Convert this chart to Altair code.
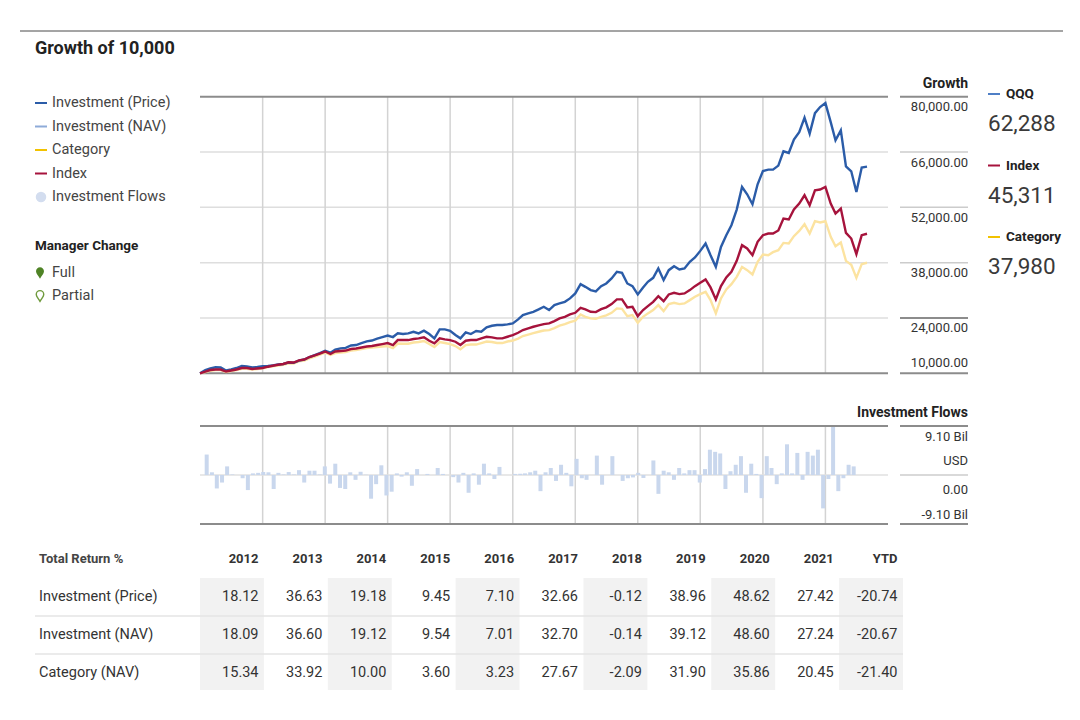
import altair as alt
import pandas as pd

FONT = "Roboto, 'Liberation Sans', sans-serif"

# ---------------- data ----------------
# Growth of 10,000 (in thousands), monthly points from Jan 2012
qqq = [10.0, 10.83, 11.21, 11.52, 11.47, 10.71, 10.96, 11.34, 11.84, 11.72, 11.47, 11.59, 11.77,
       11.84, 12.02, 12.22, 12.35, 12.73, 12.65, 13.23, 13.49, 14.12, 14.62, 15.13, 15.71,
       15.21, 16.01, 16.32, 16.44, 17.03, 17.15, 17.66, 18.09, 18.29, 18.79, 19.17, 19.55,
       19.17, 20.11, 19.93, 20.11, 20.51, 20.11, 20.77, 19.93, 18.84, 21.12, 21.12, 20.77,
       19.68, 18.84, 20.36, 19.93, 20.69, 20.51, 21.62, 22.03, 22.21, 22.21, 22.38, 22.64,
       23.65, 24.73, 25.16, 25.57, 26.17, 26.83, 26.00, 27.26, 27.69, 28.09, 28.95, 30.22,
       32.57, 31.88, 31.05, 30.72, 32.06, 32.74, 34.01, 35.67, 35.42, 32.74, 32.06, 29.96,
       31.73, 33.15, 34.16, 36.53, 33.58, 36.10, 37.11, 36.28, 36.53, 38.20, 39.31, 40.98,
       42.85, 39.89, 36.94, 41.99, 44.95, 47.48, 51.44, 57.15, 55.31, 52.78, 57.84, 61.20,
       61.55, 61.55, 62.56, 66.17, 65.75, 69.13, 71.05, 74.69, 70.65, 75.85, 77.37, 78.38,
       73.58, 68.96, 71.48, 62.38, 61.12, 55.89, 62.06, 62.29]

index_ = [10.0, 10.45, 10.83, 10.96, 10.96, 10.45, 10.71, 10.96, 11.34, 11.34, 11.09, 11.21, 11.34,
          11.67, 11.92, 12.15, 12.35, 12.78, 12.73, 13.29, 13.49, 14.12, 14.55, 15.00, 15.51,
          14.88, 15.51, 15.64, 15.76, 16.14, 16.27, 16.52, 16.77, 16.90, 17.15, 17.40, 17.66,
          17.15, 18.41, 18.41, 18.41, 18.67, 18.84, 19.10, 18.24, 17.58, 18.84, 18.59, 18.41,
          17.99, 17.15, 18.24, 18.41, 18.41, 18.84, 19.25, 19.10, 18.84, 18.84, 19.25, 19.68,
          20.26, 20.94, 21.37, 21.78, 22.13, 22.46, 22.64, 23.22, 23.90, 24.30, 24.91, 25.31,
          26.58, 26.17, 25.57, 25.49, 26.25, 26.68, 27.51, 28.70, 28.70, 26.68, 26.83, 24.48,
          26.00, 27.01, 28.09, 29.53, 28.27, 29.96, 30.37, 30.04, 30.22, 31.05, 32.06, 32.89,
          33.75, 31.73, 28.70, 32.06, 34.26, 35.67, 38.45, 42.42, 41.59, 39.89, 43.26, 44.95,
          45.38, 45.38, 46.14, 49.17, 48.92, 51.44, 52.96, 55.06, 52.53, 56.32, 56.50, 57.15,
          52.96, 50.43, 51.70, 45.53, 44.11, 40.15, 44.95, 45.31]

category = [10.0, 10.33, 10.66, 10.83, 10.83, 10.33, 10.58, 10.83, 11.16, 11.16, 10.96, 11.09, 11.26,
            11.59, 11.79, 11.97, 12.15, 12.53, 12.48, 13.03, 13.23, 13.79, 14.25, 14.75, 15.26,
            14.62, 15.13, 15.26, 15.38, 15.76, 15.89, 16.14, 16.39, 16.52, 16.65, 16.77, 16.90,
            16.39, 17.53, 17.48, 17.48, 17.78, 17.91, 18.16, 17.40, 16.65, 17.91, 17.66, 17.40,
            16.90, 16.06, 17.15, 17.28, 17.28, 17.66, 18.04, 17.91, 17.66, 17.66, 18.04, 18.29,
            18.79, 19.43, 19.80, 20.18, 20.51, 20.82, 20.94, 21.45, 22.08, 22.46, 22.96, 23.34,
            24.91, 24.30, 23.90, 23.80, 24.30, 24.66, 25.31, 26.43, 26.32, 24.48, 24.73, 22.79,
            24.30, 25.16, 26.00, 27.26, 25.74, 27.51, 27.84, 27.51, 27.69, 28.52, 29.36, 30.04,
            30.62, 28.52, 25.16, 28.95, 31.23, 32.57, 34.41, 36.94, 36.10, 35.02, 38.20, 40.07,
            39.89, 40.65, 41.16, 43.00, 42.85, 44.70, 46.04, 47.73, 45.38, 48.49, 48.16, 48.49,
            44.52, 42.17, 43.10, 38.45, 37.44, 34.16, 37.62, 37.98]

# Monthly investment flows, billions USD
flows = [3.8, 0.5, -2.5, -1.4, 1.6, 0.1, 0.0, -0.6, -2.8, 0.3, 0.4, 0.55,
         0.5, -2.6, 0.4, 0.1, 0.55, 0.1, 0.9, -1.4, 0.8, 0.8, 0.1, 1.6,
         -1.6, 2.1, -2.4, -2.6, 0.5, -0.9, 0.6, 0.05, -4.4, -1.7, 1.8, -3.8,
         -3.1, 0.3, -0.3, 0.5, -2.0, 1.1, 0.0, 0.2, 0.0, 1.3, 0.2, 0.0,
         -0.4, -1.4, 0.4, -3.3, 0.3, -1.8, 2.1, 0.3, -0.75, 1.5, 0.0, 0.0,
         0.2, 0.25, 0.3, 0.5, 0.8, -3.0, 0.5, 1.3, -1.1, 1.9, 0.4, -2.1,
         3.0, -0.6, -0.9, 0.0, 3.6, -1.8, 0.0, 3.5, 0.0, -1.1, -0.6, -0.45,
         0.4, -0.55, 0.0, 2.7, -3.5, 0.8, 0.5, -0.9, 1.3, 0.3, 0.9, 0.9,
         -1.4, 1.1, 4.7, 4.3, 4.0, -2.6, 0.7, 1.9, 3.5, -3.3, 2.1, 0.2,
         -4.3, 3.5, 1.3, -1.7, 0.3, 5.7, 0.3, 4.1, -0.9, 4.3, 3.6, 4.7,
         -6.2, -0.75, 9.0, -3.0, -0.6, 1.9, 1.6]

growth_ticks = [80, 66, 52, 38, 24]
growth_tick_labels = ["80,000.00", "66,000.00", "52,000.00", "38,000.00", "24,000.00"]
growth_base = [10]
growth_base_label = ["10,000.00"]
dark_ticks = [80, 24, 10]
light_ticks = [66, 52, 38]

flow_ticks = [9.1, 0, -9.1]
flow_labels = ["9.10 Bil", "0.00", "-9.10 Bil"]

cols = ["2012", "2013", "2014", "2015", "2016", "2017", "2018", "2019", "2020", "2021", "YTD"]
shaded_cols = ["2012", "2014", "2016", "2018", "2020", "YTD"]
rows = ["Investment (Price)", "Investment (NAV)", "Category (NAV)"]
ret_price = ["18.12", "36.63", "19.18", "9.45", "7.10", "32.66", "-0.12", "38.96", "48.62", "27.42", "-20.74"]
ret_nav = ["18.09", "36.60", "19.12", "9.54", "7.01", "32.70", "-0.14", "39.12", "48.60", "27.24", "-20.67"]
ret_cat = ["15.34", "33.92", "10.00", "3.60", "3.23", "27.67", "-2.09", "31.90", "35.86", "20.45", "-21.40"]

legend_names = ["Investment (Price)", "Investment (NAV)", "Category", "Index", "Investment Flows"]
legend_colors = ["#2b5ca8", "#8eabd8", "#f2c200", "#a6133c"]
manager_names = ["Full", "Partial"]

right_names = ["QQQ", "Index", "Category"]
right_values = ["62,288", "45,311", "37,980"]
right_colors = ["#4f7fc6", "#a6133c", "#f2c200"]

# ---------------- helpers ----------------
ONE = alt.Data(values=[{"a": 1}])


def txt(s, x, y, size, bold=False, align="left", color="#333333"):
    return alt.Chart(ONE).mark_text(
        text=s, font=FONT, fontSize=size, fontWeight="bold" if bold else "normal",
        align=align, baseline="middle", color=color
    ).encode(x=alt.value(x - 8), y=alt.value(y - 8))


def seg(x1, x2, y, color, w):
    return alt.Chart(ONE).mark_rule(color=color, strokeWidth=w).encode(
        x=alt.value(x1 - 8), x2=alt.value(x2 - 8), y=alt.value(y - 8))


X_T = alt.Scale(domain=[alt.DateTime(year=2012, month=1, date=1),
                        alt.DateTime(year=2023, month=3, date=1)], range=[192, 890])
Y_MAIN = alt.Scale(domain=[10, 80], range=[365.3, 88.7])
Y_FLOW = alt.Scale(domain=[-9.1, 9.1], range=[516, 418])

growth_dates = pd.date_range("2012-01-01", periods=len(qqq), freq="MS")
flow_dates = pd.date_range("2012-01-01", periods=len(flows), freq="MS") + pd.Timedelta(days=10)
year_lines = pd.DataFrame({"date": pd.date_range("2013-01-01", periods=10, freq="YS")})

growth = pd.concat([
    pd.DataFrame({"date": growth_dates, "value": v, "series": s})
    for s, v in [("Category", category), ("QQQ", qqq), ("Index", index_)]
])
flow_df = pd.DataFrame({"date": flow_dates, "flow": flows})

layers = []

# Title
layers.append(seg(20, 1063, 31, "#4a4a4a", 1))
layers.append(txt("Growth of 10,000", 35, 49, 18, bold=True, color="#222222"))

# ---------- main growth panel ----------
ydf_light = pd.DataFrame({"v": light_ticks + [24]})
ydf_dark = pd.DataFrame({"v": [80, 10]})
layers.append(alt.Chart(ydf_light).mark_rule(color="#dedede", strokeWidth=1.5).encode(
    y=alt.Y("v:Q", scale=Y_MAIN, axis=None), x=alt.value(192), x2=alt.value(880)))
layers.append(alt.Chart(year_lines).mark_rule(color="#d3d3d3", strokeWidth=1.5).encode(
    x=alt.X("date:T", scale=X_T, axis=None), y=alt.value(89), y2=alt.value(365)))
layers.append(alt.Chart(ydf_dark).mark_rule(color="#8c8c8c", strokeWidth=2).encode(
    y=alt.Y("v:Q", scale=Y_MAIN, axis=None), x=alt.value(192), x2=alt.value(880)))
# right axis segments
layers.append(alt.Chart(pd.DataFrame({"v": light_ticks})).mark_rule(color="#cccccc", strokeWidth=1.5).encode(
    y=alt.Y("v:Q", scale=Y_MAIN, axis=None), x=alt.value(892), x2=alt.value(960)))
layers.append(alt.Chart(pd.DataFrame({"v": dark_ticks})).mark_rule(color="#8c8c8c", strokeWidth=2).encode(
    y=alt.Y("v:Q", scale=Y_MAIN, axis=None), x=alt.value(892), x2=alt.value(960)))
layers.append(alt.Chart(pd.DataFrame({"v": growth_ticks, "t": growth_tick_labels})).mark_text(
    font=FONT, fontSize=13, align="right", baseline="middle", dy=10.5, color="#333333").encode(
    y=alt.Y("v:Q", scale=Y_MAIN, axis=None), x=alt.value(960), text="t:N"))
layers.append(alt.Chart(pd.DataFrame({"v": growth_base, "t": growth_base_label})).mark_text(
    font=FONT, fontSize=13, align="right", baseline="middle", dy=-10.5, color="#333333").encode(
    y=alt.Y("v:Q", scale=Y_MAIN, axis=None), x=alt.value(960), text="t:N"))
layers.append(txt("Growth", 968, 84, 14, bold=True, align="right", color="#222222"))

# lines
line_styles = [("Category", "#fce3a0"), ("QQQ", "#2b5ca8"), ("Index", "#a6133c")]
for s, c in line_styles:
    layers.append(alt.Chart(growth).transform_filter(alt.datum.series == s).mark_line(
        color=c, strokeWidth=2.4).encode(
        x=alt.X("date:T", scale=X_T, axis=None),
        y=alt.Y("value:Q", scale=Y_MAIN, axis=None)))

# ---------- flows panel ----------
layers.append(alt.Chart(year_lines).mark_rule(color="#d3d3d3", strokeWidth=1.5).encode(
    x=alt.X("date:T", scale=X_T, axis=None), y=alt.value(419), y2=alt.value(515)))
layers.append(alt.Chart(pd.DataFrame({"v": [0]})).mark_rule(color="#e0e0e0", strokeWidth=1.5).encode(
    y=alt.Y("v:Q", scale=Y_FLOW, axis=None), x=alt.value(192), x2=alt.value(880)))
layers.append(alt.Chart(flow_df).mark_bar(size=4, color="#c9d7ed").encode(
    x=alt.X("date:T", scale=X_T, axis=None),
    y=alt.Y("flow:Q", scale=Y_FLOW, axis=None, stack=None)))
layers.append(alt.Chart(pd.DataFrame({"v": [9.1, -9.1]})).mark_rule(color="#8c8c8c", strokeWidth=2).encode(
    y=alt.Y("v:Q", scale=Y_FLOW, axis=None), x=alt.value(192), x2=alt.value(880)))
layers.append(alt.Chart(pd.DataFrame({"v": [9.1, -9.1]})).mark_rule(color="#8c8c8c", strokeWidth=2).encode(
    y=alt.Y("v:Q", scale=Y_FLOW, axis=None), x=alt.value(892), x2=alt.value(960)))
layers.append(alt.Chart(pd.DataFrame({"v": [0]})).mark_rule(color="#cccccc", strokeWidth=1.5).encode(
    y=alt.Y("v:Q", scale=Y_FLOW, axis=None), x=alt.value(892), x2=alt.value(960)))
fl = pd.DataFrame({"v": flow_ticks, "t": flow_labels})
for val, dy in [(9.1, 11), (0, 15), (-9.1, -9)]:
    layers.append(alt.Chart(fl).transform_filter(alt.datum.v == val).mark_text(
        font=FONT, fontSize=13, align="right", baseline="middle", dy=dy, color="#333333").encode(
        y=alt.Y("v:Q", scale=Y_FLOW, axis=None), x=alt.value(960), text="t:N"))
layers.append(txt("USD", 968, 461, 13, align="right"))
layers.append(txt("Investment Flows", 968, 413, 14, bold=True, align="right", color="#222222"))

# ---------- left legend ----------
Y_LEG = alt.Scale(type="point", domain=legend_names, range=[95, 189], padding=0)
leg_df = pd.DataFrame({"name": legend_names})
layers.append(alt.Chart(leg_df).transform_filter(alt.datum.name != "Investment Flows").mark_rule(
    strokeWidth=2).encode(
    y=alt.Y("name:N", scale=Y_LEG, axis=None), x=alt.value(27), x2=alt.value(39),
    color=alt.Color("name:N", scale=alt.Scale(domain=legend_names[:4], range=legend_colors), legend=None)))
layers.append(alt.Chart(leg_df).transform_filter(alt.datum.name == "Investment Flows").mark_circle(
    size=110, color="#d3ddef", opacity=1).encode(
    y=alt.Y("name:N", scale=Y_LEG, axis=None), x=alt.value(33)))
layers.append(alt.Chart(leg_df).mark_text(font=FONT, fontSize=14.5, align="left", baseline="middle",
                                          color="#444444").encode(
    y=alt.Y("name:N", scale=Y_LEG, axis=None), x=alt.value(44), text="name:N"))
layers.append(txt("Manager Change", 35, 246, 13.5, bold=True, color="#222222"))
Y_MGR = alt.Scale(type="point", domain=manager_names, range=[265, 288], padding=0)
mgr_df = pd.DataFrame({"name": manager_names})
PIN = "M0,1 C-0.3,0.45 -0.7,0.1 -0.7,-0.3 A0.7,0.7 0 1,1 0.7,-0.3 C0.7,0.1 0.3,0.45 0,1 Z"
layers.append(alt.Chart(mgr_df).transform_filter(alt.datum.name == "Full").mark_point(
    shape=PIN, size=130, filled=True, color="#4f8326", opacity=1).encode(
    y=alt.Y("name:N", scale=Y_MGR, axis=None), x=alt.value(32)))
layers.append(alt.Chart(mgr_df).transform_filter(alt.datum.name == "Partial").mark_point(
    shape=PIN, size=115, filled=False, color="#6f9a3c", strokeWidth=1.4, opacity=1).encode(
    y=alt.Y("name:N", scale=Y_MGR, axis=None), x=alt.value(32)))
layers.append(alt.Chart(mgr_df).mark_text(font=FONT, fontSize=14.5, align="left", baseline="middle",
                                          color="#444444").encode(
    y=alt.Y("name:N", scale=Y_MGR, axis=None), x=alt.value(44), text="name:N"))

# ---------- right legend ----------
rdf = pd.DataFrame({"name": right_names, "val": right_values})
Y_RN = alt.Scale(type="point", domain=right_names, range=[86, 229], padding=0)
Y_RV = alt.Scale(type="point", domain=right_values, range=[116, 259], padding=0)
layers.append(alt.Chart(rdf).mark_rule(strokeWidth=2).encode(
    y=alt.Y("name:N", scale=Y_RN, axis=None), x=alt.value(980), x2=alt.value(992),
    color=alt.Color("name:N", scale=alt.Scale(domain=right_names, range=right_colors), legend=None)))
layers.append(alt.Chart(rdf).mark_text(font=FONT, fontSize=13.5, fontWeight="bold", align="left",
                                       baseline="middle", color="#222222").encode(
    y=alt.Y("name:N", scale=Y_RN, axis=None), x=alt.value(998), text="name:N"))
layers.append(alt.Chart(rdf).mark_text(font=FONT, fontSize=22.5, align="left", baseline="middle",
                                       color="#3a3a3a").encode(
    y=alt.Y("val:N", scale=Y_RV, axis=None), x=alt.value(980), text="val:N"))

# ---------- table ----------
X_BAND = alt.Scale(type="band", domain=cols, range=[192, 895], paddingInner=0, paddingOuter=0)
X_COLTXT = alt.Scale(type="point", domain=cols, range=[250.5, 889.5], padding=0)
Y_ROW = alt.Scale(type="point", domain=rows, range=[589, 665], padding=0)
layers.append(alt.Chart(pd.DataFrame({"col": shaded_cols})).mark_rect(color="#f2f2f2").encode(
    x=alt.X("col:N", scale=X_BAND, axis=None), y=alt.value(570), y2=alt.value(682)))
layers.append(seg(35, 903, 616, "#e4e4e4", 1.5))
layers.append(seg(35, 903, 654, "#e4e4e4", 1.5))
layers.append(txt("Total Return %", 39, 559, 13, bold=True, color="#444444"))
layers.append(alt.Chart(pd.DataFrame({"col": cols})).mark_text(
    font=FONT, fontSize=13, fontWeight="bold", align="right", baseline="middle", color="#333333").encode(
    x=alt.X("col:N", scale=X_COLTXT, axis=None), y=alt.value(551), text="col:N"))
tbl = pd.concat([
    pd.DataFrame({"row": r, "col": cols, "val": v})
    for r, v in zip(rows, [ret_price, ret_nav, ret_cat])
])
layers.append(alt.Chart(tbl).mark_text(font=FONT, fontSize=14.5, align="right", baseline="middle",
                                       color="#333333").encode(
    x=alt.X("col:N", scale=X_COLTXT, axis=None), y=alt.Y("row:N", scale=Y_ROW, axis=None), text="val:N"))
layers.append(alt.Chart(pd.DataFrame({"row": rows})).mark_text(
    font=FONT, fontSize=14.5, align="left", baseline="middle", color="#333333").encode(
    x=alt.value(31), y=alt.Y("row:N", scale=Y_ROW, axis=None), text="row:N"))

chart = alt.layer(*layers).resolve_scale(
    x="independent", y="independent", color="independent"
).properties(width=1064, height=704, padding=0, autosize="none").configure_view(stroke=None)

chart.save("out.html", embed_options={"renderer": "svg", "actions": False})
